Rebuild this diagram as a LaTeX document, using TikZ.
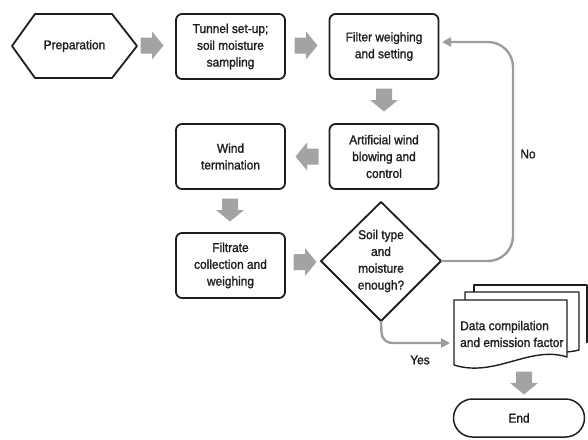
\documentclass[tikz,border=0pt]{standalone}
\usepackage{fontspec}
\setmainfont{Liberation Sans}[FakeStretch=0.93,FakeBold=1.4]
\usetikzlibrary{arrows.meta}
\definecolor{arrowgray}{HTML}{A3A3A3}
\definecolor{linegray}{HTML}{9C9C9C}
\definecolor{edge}{HTML}{1E1E1E}
\tikzset{
  txt/.style={font=\fontsize{12.8}{16.8}\selectfont, align=center, text=edge, inner sep=1pt},
  box/.style={txt, draw=edge, line width=1.8pt, rounded corners=6pt, minimum width=109pt, minimum height=65pt},
  shapeline/.style={draw=edge, line width=1.8pt, line join=round},
  docline/.style={draw=edge, line width=1.4pt, fill=white, line join=round},
  loopline/.style={draw=linegray, line width=2.4pt, -{Triangle[length=9pt,width=9pt]}},
  barrow/.pic={\fill[arrowgray] (-11.5,-8) -- (0,-8) -- (0,-14) -- (11.5,0) -- (0,14) -- (0,8) -- (-11.5,8) -- cycle;}
}
\begin{document}
\begin{tikzpicture}[x=1pt,y=-1pt]
\useasboundingbox (0,0) rectangle (588,439);
% Preparation hexagon
\draw[shapeline] (12,46) -- (35,14) -- (112,14) -- (137,46) -- (112,78) -- (35,78) -- cycle;
\node[txt] (prep) at (74.5,46) {Preparation};
% process boxes
\node[box] (tunnel) at (230.5,46.5) {Tunnel set-up;\\soil moisture\\sampling};
\node[box] (filter) at (384,46.5) {Filter weighing\\and setting};
\node[box] (blow) at (384,156.5) {Artificial wind\\blowing and\\control};
\node[box] (wind) at (230.5,156.5) {Wind\\termination};
\node[box] (filtrate) at (230.5,265.5) {Filtrate\\collection and\\weighing};
% decision diamond
\coordinate (decW) at (321,261);
\coordinate (decN) at (381,202);
\coordinate (decE) at (441,261);
\coordinate (decS) at (381,321);
\draw[shapeline] (decW) -- (decN) -- (decE) -- (decS) -- cycle;
\node[txt] (dec) at (381,261) {Soil type\\and\\moisture\\enough?};
% multi-document
\draw[docline] (474,343) -- (474,285) -- (587,285) -- (587,343);
\draw[docline] (465,350) -- (465,292) -- (579,292) -- (579,350) .. controls (575,351) .. (567,352);
\draw[docline] (454,365) -- (454,300) -- (567,300) -- (567,357)
  .. controls (530,345) and (495,378) .. (454,365);
\node[txt, align=left, anchor=west] (doc) at (459,334) {Data compilation\\and emission factor};
% End terminator
\node[txt, draw=edge, line width=1.5pt, rounded corners=19pt, minimum width=131pt, minimum height=38pt] (end) at (519,418) {End};
% block arrows
\pic at (152,45.5) {barrow};
\pic at (306,45.5) {barrow};
\pic[rotate=-90] at (384,100) {barrow};
\pic[rotate=180] at (307,156.5) {barrow};
\pic[rotate=-90] at (230,210) {barrow};
\pic at (305,262) {barrow};
\pic[rotate=-90] at (524,383) {barrow};
% loop and yes connectors
\coordinate (filterin) at (442,42);
\coordinate (docin) at (450,343);
\draw[loopline, rounded corners=25pt] (decE) -- (513,261) -- (513,42) -- (filterin);
\draw[loopline, rounded corners=10pt] (decS) -- (382,343) -- (docin);
\node[txt] (no) at (528,154) {No};
\node[txt] (yes) at (420,360) {Yes};
\end{tikzpicture}
\end{document}
